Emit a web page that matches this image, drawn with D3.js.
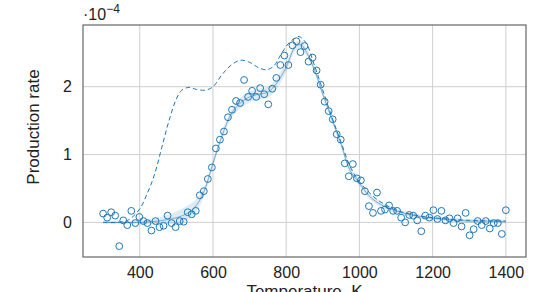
<!DOCTYPE html>
<html>
<head>
<meta charset="utf-8">
<script src="https://cdn.jsdelivr.net/npm/d3@7"></script>
<style>
  html, body { margin: 0; padding: 0; background: #fff; }
  svg { display: block; }
  text { font-family: "Liberation Sans", "Open Sans", sans-serif; fill: #222; }
</style>
</head>
<body>
<svg id="chart" width="536" height="292"></svg>
<script>
// ---- data (rates in units of 1e-4) ----
const temps = [300,311,322,333,344,355,366,377,388,399,410,421,432,443,454,465,476,487,498,509,
  520,531,542,553,564,575,586,597,608,619,630,641,652,663,674,685,696,707,718,729,
  740,751,762,773,784,795,806,817,828,839,850,861,872,883,894,905,916,927,938,949,
  960,971,982,993,1004,1015,1026,1037,1048,1059,1070,1081,1092,1103,1114,1125,1136,1147,1158,1169,
  1180,1191,1202,1213,1224,1235,1246,1257,1268,1279,1290,1301,1312,1323,1334,1345,1356,1367,1378,1389,1400];
const rates = [0.13,0.07,0.15,0.10,-0.35,0.03,-0.04,0.17,-0.01,0.08,0.02,-0.01,-0.12,0.02,-0.07,-0.05,0.10,-0.01,-0.07,0.02,
  0.01,0.15,0.12,0.17,0.40,0.46,0.64,0.81,1.09,1.22,1.34,1.55,1.66,1.79,1.76,2.10,1.85,1.94,1.85,1.98,
  1.89,1.74,1.97,2.13,2.32,2.46,2.32,2.61,2.67,2.51,2.60,2.37,2.43,2.24,2.03,1.78,1.64,1.52,1.30,1.22,
  0.87,0.68,0.86,0.65,0.62,0.46,0.24,0.14,0.44,0.17,0.19,0.25,0.17,0.17,0.07,0.00,0.11,0.10,0.03,-0.13,
  0.10,0.07,0.18,0.05,0.17,0.03,0.06,-0.01,0.06,-0.06,0.14,-0.19,-0.10,0.02,-0.04,0.02,-0.09,-0.01,-0.01,-0.17,0.18];

const fitT    = [300,350,400,450,500,525,550,575,600,625,650,675,700,725,750,775,800,825,840,850,875,900,925,950,975,1000,1025,1050,1075,1100,1150,1200,1250,1300,1350,1400];
const fitMean = [0.0,0.0,0.0,0.02,0.07,0.12,0.22,0.45,0.87,1.28,1.60,1.76,1.85,1.89,1.92,2.06,2.29,2.59,2.62,2.56,2.28,1.89,1.52,1.15,0.76,0.58,0.40,0.29,0.22,0.17,0.10,0.06,0.04,0.02,0.02,0.01];
const fitBand = [0.02,0.02,0.03,0.05,0.09,0.11,0.10,0.07,0.05,0.05,0.06,0.08,0.08,0.08,0.08,0.08,0.07,0.06,0.06,0.06,0.05,0.05,0.05,0.05,0.05,0.04,0.04,0.04,0.03,0.03,0.03,0.03,0.03,0.03,0.03,0.03];

const dashT    = [300,340,370,400,420,440,460,480,500,515,535,555,580,600,625,650,675,700,725,745,765,785,805,825,835,855,875,900,925,950,975,1000,1025,1050,1075,1100,1150,1200,1300,1400];
const dashVals = [0.0,0.0,0.04,0.20,0.42,0.70,1.10,1.50,1.82,1.95,1.99,1.96,1.95,2.00,2.18,2.32,2.39,2.36,2.28,2.25,2.30,2.47,2.63,2.72,2.74,2.64,2.35,1.95,1.55,1.18,0.82,0.60,0.45,0.33,0.25,0.18,0.11,0.07,0.03,0.02];

const xTicks = [400,600,800,1000,1200,1400];
const yTicks = [0,1,2];
const xLabel = "Temperature, K";
const yLabel = "Production rate";

// ---- layout ----
const svg = d3.select("#chart");
const L = 83, R = 526, T = 25, B = 257;
const blue = "#1f77b4";
const FONT = "Liberation Sans, Open Sans, sans-serif";

const x = d3.scaleLinear().domain([245, 1455]).range([L, R]);
const y = d3.scaleLinear().domain([-0.51, 2.91]).range([B, T]);

// grid
const grid = svg.append("g");
grid.selectAll("line.gx").data(xTicks).join("line")
  .attr("x1", d => x(d)).attr("x2", d => x(d)).attr("y1", T).attr("y2", B)
  .attr("stroke", "#cfcfcf").attr("stroke-width", 1);
grid.selectAll("line.gy").data(yTicks).join("line")
  .attr("x1", L).attr("x2", R).attr("y1", d => y(d)).attr("y2", d => y(d))
  .attr("stroke", "#cfcfcf").attr("stroke-width", 1);

// axes (labels only)
const xAxis = d3.axisBottom(x).tickValues(xTicks).tickSize(0).tickPadding(9.6).tickFormat(d3.format("d"));
const gx = svg.append("g").attr("transform", `translate(0,${B})`).call(xAxis);
gx.select(".domain").remove();
gx.selectAll("text").attr("font-size", 16).attr("fill", "#222").attr("font-family", FONT);

const yAxis = d3.axisLeft(y).tickValues(yTicks).tickSize(0).tickPadding(11).tickFormat(d3.format("d"));
const gy = svg.append("g").attr("transform", `translate(${L},0)`).call(yAxis);
gy.select(".domain").remove();
gy.selectAll("text").attr("font-size", 16).attr("fill", "#222").attr("font-family", FONT);

// band
const band = fitT.map((t, i) => ({t, lo: fitMean[i] - fitBand[i], hi: fitMean[i] + fitBand[i]}));
svg.append("path").datum(band)
  .attr("d", d3.area().x(d => x(d.t)).y0(d => y(d.lo)).y1(d => y(d.hi)).curve(d3.curveCatmullRom))
  .attr("fill", blue).attr("fill-opacity", 0.15);

// fit line
svg.append("path").datum(fitT.map((t, i) => [t, fitMean[i]]))
  .attr("d", d3.line().x(d => x(d[0])).y(d => y(d[1])).curve(d3.curveCatmullRom))
  .attr("fill", "none").attr("stroke", blue).attr("stroke-opacity", 0.55).attr("stroke-width", 1);

// dashed model
svg.append("path").datum(dashT.map((t, i) => [t, dashVals[i]]))
  .attr("d", d3.line().x(d => x(d[0])).y(d => y(d[1])).curve(d3.curveCatmullRom))
  .attr("fill", "none").attr("stroke", blue).attr("stroke-width", 1)
  .attr("stroke-dasharray", "4.5,3");

// points
svg.append("g").selectAll("circle").data(temps.map((t, i) => [t, rates[i]])).join("circle")
  .attr("cx", d => x(d[0])).attr("cy", d => y(d[1])).attr("r", 3.4)
  .attr("fill", "none").attr("stroke", blue).attr("stroke-width", 1);

// frame
svg.append("rect").attr("x", L).attr("y", T).attr("width", R - L).attr("height", B - T)
  .attr("fill", "none").attr("stroke", "#666").attr("stroke-width", 1.2);

// multiplier
const mult = svg.append("text").attr("x", L).attr("y", 20).attr("font-size", 16);
mult.append("tspan").text("·10");
mult.append("tspan").attr("dy", -7).attr("font-size", 12).text("−4");

// axis labels
svg.append("text").attr("x", (L + R) / 2).attr("y", 297).attr("text-anchor", "middle")
  .attr("font-size", 17).text(xLabel);
svg.append("text").attr("transform", `translate(39,127) rotate(-90)`)
  .attr("text-anchor", "middle").attr("font-size", 17).text(yLabel);
</script>
</body>
</html>
